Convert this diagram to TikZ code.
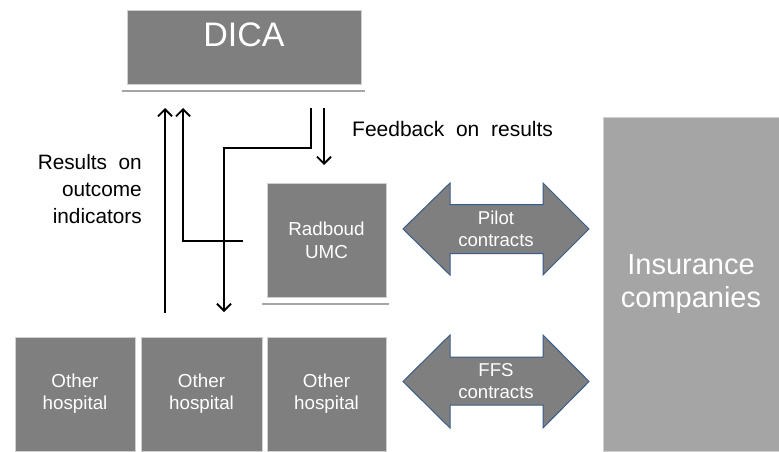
\documentclass[tikz,border=0pt]{standalone}
\usepackage{fontspec}
\setmainfont{Liberation Sans}
\usetikzlibrary{arrows.meta}
\definecolor{boxgray}{HTML}{7F7F7F}
\definecolor{insgray}{HTML}{A5A5A5}
\definecolor{rulegray}{HTML}{A6A6A6}
\definecolor{boxedge}{HTML}{D0D0D0}
\definecolor{arrowedge}{HTML}{385D8A}
\newcommand{\fsz}[2]{\fontsize{#1}{#2}\selectfont}
\begin{document}
\begin{tikzpicture}[x=1pt,y=-1pt,
  box/.style={draw=boxedge, line width=0.8pt, fill=boxgray, text=white, align=center, inner sep=0pt},
  insbox/.style={box, fill=insgray},
  rulebar/.style={draw=rulegray, line width=2.6pt},
  flow/.style={line width=1.9pt, -{Straight Barb[length=7pt,width=14pt]}},
  dblarrow/.style={fill=boxgray, draw=arrowedge, line width=1pt, line join=miter},
  plabel/.style={text=white, align=center, inner sep=0pt},
  tlabel/.style={text=black, inner sep=0pt}
]
\useasboundingbox (0,0) rectangle (779,452);
\fill[white] (0,0) rectangle (779,452);

% boxes
\node[box, minimum width=234pt, minimum height=74pt] (dica) at (244,47) {};
\node[anchor=base, text=white, inner sep=0pt, font=\fsz{34}{40}] (dicatxt) at (244,47) {DICA};
\draw[rulebar] (122,91) -- (365,91);

\node[box, minimum width=119pt, minimum height=114pt, font=\fsz{18.8}{23}] (radboud) at (326.5,240) {Radboud\\UMC};
\draw[rulebar] (262,304) -- (389,304);

\node[box, minimum width=120pt, minimum height=114pt, font=\fsz{18.8}{22}] (h1) at (75,394) {Other\\hospital};
\node[box, minimum width=121pt, minimum height=114pt, font=\fsz{18.8}{22}] (h2) at (201.5,394) {Other\\hospital};
\node[box, minimum width=119pt, minimum height=114pt, font=\fsz{18.8}{22}] (h3) at (326.5,394) {Other\\hospital};

\node[insbox, minimum width=176pt, minimum height=334pt, font=\fsz{29}{33}] (ins) at (691,284) {Insurance\\companies};

% double arrows
\path[dblarrow] (403,229) -- (450,183) -- (450,204.5) -- (543,204.5) -- (543,183) -- (589,229)
  -- (543,275) -- (543,253.5) -- (450,253.5) -- (450,275) -- cycle;
\node[plabel, font=\fsz{18.6}{22}] (pilot) at (496,229) {Pilot\\contracts};

\path[dblarrow] (403,381.5) -- (450,335) -- (450,357) -- (543,357) -- (543,335) -- (589,381.5)
  -- (543,428) -- (543,405) -- (450,405) -- (450,428) -- cycle;
\node[plabel, font=\fsz{18.6}{22}] (ffs) at (496,381.5) {FFS\\contracts};

% texts
\node[tlabel, anchor=base west, font=\fsz{21}{24}] (feedback) at (352,136) {Feedback\ \ on\ \ results};
\node[tlabel, anchor=base east, align=right, font=\fsz{20.8}{27}] (results) at (142,223) {Results\ \ on\\outcome\\indicators};

% connectors
\coordinate (a1s) at (165,313);
\coordinate (a1e) at (165,108);
\draw[flow] (a1s) -- (a1e);

\coordinate (a2s) at (243,241);
\coordinate (a2m) at (183,241);
\coordinate (a2e) at (183,108);
\draw[flow, line join=miter] (a2s) -- (a2m) -- (a2e);

\coordinate (a3s) at (311,108);
\coordinate (a3m1) at (311,148);
\coordinate (a3m2) at (224,148);
\coordinate (a3e) at (224,312);
\draw[flow, line join=miter] (a3s) -- (a3m1) -- (a3m2) -- (a3e);

\coordinate (a4s) at (324,108);
\coordinate (a4e) at (324,165);
\draw[flow] (a4s) -- (a4e);
\end{tikzpicture}
\end{document}
